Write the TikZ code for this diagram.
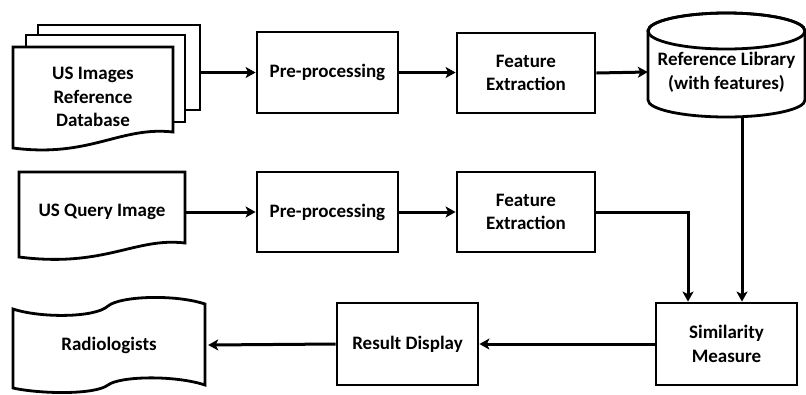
\documentclass[tikz,border=0pt]{standalone}
\usepackage{fontspec}
\setmainfont{Carlito}
\usetikzlibrary{arrows.meta}
\tikzset{
  lw/.style={line width=2.8bp},
  box/.style={draw, lw, fill=white, inner sep=0pt, align=center,
    minimum width=141bp, minimum height=81bp},
  lbl/.style={inner sep=0pt, align=center},
  arr/.style={line width=3bp, -{Stealth[length=10bp,width=11bp,inset=2.5bp]}},
}
\begin{document}
\begin{tikzpicture}[x=1bp,y=-1bp,
  every node/.style={font=\fontsize{19bp}{23.7bp}\selectfont\bfseries}]
\useasboundingbox (0,0) rectangle (806,394);
% reference database stack
\draw[lw, fill=white] (38,25) rectangle (200,110);
\draw[lw, fill=white] (26,35) rectangle (185,122);
\draw[lw, fill=white] (13,47) -- (173,47) -- (173,132)
  .. controls (120,126) and (90,158) .. (13,148) -- cycle;
\node[lbl, minimum width=162bp, minimum height=85bp] (dbback) at (119,67.5) {};
\node[lbl] (db) at (93,97) {US Images\\Reference\\Database};
% query document
\draw[lw, fill=white] (19,172) -- (185,172) -- (185,243)
  .. controls (135,237) and (105,268) .. (19,257) -- cycle;
\node[lbl, minimum width=166bp] (qry) at (102,212) {US Query Image};
% boxes
\node[box] (pp1) at (327.5,72.5) {Pre-processing};
\node[box, minimum width=138bp, minimum height=80bp] (fe1) at (526,73) {Feature\\Extraction};
\node[box, minimum height=80bp] (pp2) at (327.5,212) {Pre-processing};
\node[box, minimum width=138bp, minimum height=80bp] (fe2) at (526,212) {Feature\\Extraction};
\node[box, minimum height=82bp] (sim) at (726.5,344) {Similarity\\Measure};
\node[box, minimum height=82bp] (rd) at (407.5,344) {Result Display};
% cylinder
\draw[lw, fill=white] (648,31) -- (648,100)
  arc[start angle=180, end angle=0, x radius=78.5, y radius=17]
  -- (805,31) arc[start angle=0, end angle=-180, x radius=78.5, y radius=18] -- cycle;
\draw[lw] (726.5,31) ellipse[x radius=78.5, y radius=18];
\node[lbl, minimum width=157bp, minimum height=90bp] (cyl) at (726.5,72) {Reference Library\\(with features)};
% radiologists tape
\draw[lw, fill=white] (13,309) .. controls (40,318) and (95,318) .. (108,306)
  .. controls (120,296) and (175,294) .. (205,304) -- (205,385)
  .. controls (175,375) and (120,376) .. (108,385)
  .. controls (95,395) and (40,394) .. (13,388) -- cycle;
\node[lbl, minimum width=198bp] (rad) at (109,345) {Radiologists};
% connectors
\draw[arr] (dbback.east |- pp1.west) -- (pp1.west);
\draw[arr] (pp1.east) -- (fe1.west |- pp1.east);
\draw[arr] (fe1.east) -- (cyl.west);
\draw[arr] (qry.east) -- (pp2.west);
\draw[arr] (pp2.east) -- (fe2.west);
\draw[arr] (fe2.east) -| ([xshift=-38.5bp]sim.north);
\draw[arr] ([xshift=15.5bp]cyl.south) -- ([xshift=15.5bp]sim.north);
\draw[arr] (sim.west) -- (rd.east);
\draw[arr] (rd.west) -- (rad.east);
\end{tikzpicture}
\end{document}
